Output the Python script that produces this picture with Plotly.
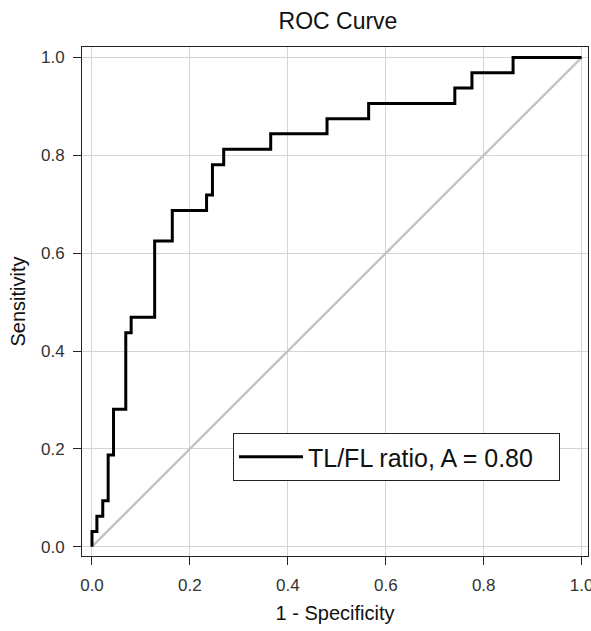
import plotly.graph_objects as go

# ROC step curve (1 - specificity, sensitivity)
fpr = [0, 0, 0.010, 0.022, 0.033, 0.044, 0.069, 0.080, 0.128, 0.164, 0.234,
       0.246, 0.269, 0.365, 0.480, 0.565, 0.741, 0.776, 0.860, 1.0]
tpr = [0, 0.031, 0.0625, 0.094, 0.1875, 0.281, 0.4375, 0.469, 0.625, 0.6875,
       0.719, 0.781, 0.8125, 0.844, 0.875, 0.906, 0.9375, 0.969, 1.0, 1.0]
diag_x = [0, 1]
diag_y = [0, 1]
tick_vals = [0.0, 0.2, 0.4, 0.6, 0.8, 1.0]
tick_text = ["0.0", "0.2", "0.4", "0.6", "0.8", "1.0"]
series_name = "TL/FL ratio, A = 0.80"

FONT = "Liberation Sans, Arial, sans-serif"

fig = go.Figure()
fig.add_trace(go.Scatter(x=diag_x, y=diag_y, mode="lines",
                         line=dict(color="#c4c4c4", width=2.5),
                         showlegend=False, hoverinfo="skip"))
fig.add_trace(go.Scatter(x=fpr, y=tpr, mode="lines", name=series_name,
                         line=dict(color="black", width=3, shape="hv")))

axis_common = dict(
    tickvals=tick_vals, ticktext=tick_text,
    showgrid=True, gridcolor="#d4d4d4", gridwidth=1,
    zeroline=False,
    showline=True, linecolor="#222", linewidth=1, mirror=True,
    ticks="outside", ticklen=8, tickcolor="#222", tickwidth=1,
    tickfont=dict(family=FONT, size=17, color="#333"),
    ticklabeloverflow="allow",
    automargin=False,
)

fig.update_layout(
    width=591, height=631,
    margin=dict(l=82, r=3, t=47, b=75, autoexpand=False),
    paper_bgcolor="white", plot_bgcolor="white",
    title=dict(text="ROC Curve", x=338 / 591, xanchor="center", y=1 - 21 / 631, yanchor="middle",
               font=dict(family=FONT, size=23, color="#111")),
    xaxis=dict(range=[-0.0204, 1.013],
               title=dict(text="1 - Specificity", standoff=11,
                          font=dict(family=FONT, size=20, color="#111")),
               ticklabelstandoff=6,
               **axis_common),
    yaxis=dict(range=[-0.019, 1.0215],
               title=dict(text="Sensitivity", standoff=9,
                          font=dict(family=FONT, size=20, color="#111")),
               ticklabelstandoff=5,
               **axis_common),
    legend=dict(x=(233 - 82) / 506, y=(556 - 433) / 509, xanchor="left", yanchor="top",
                orientation="h",
                bgcolor="white", bordercolor="#222", borderwidth=1,
                font=dict(family=FONT, size=25, color="#111"),
                itemwidth=64, entrywidth=246),
    showlegend=True,
)

fig.write_html("out.html", config={"displayModeBar": False},
               post_script="document.body.style.margin='0';document.body.style.padding='0';")
